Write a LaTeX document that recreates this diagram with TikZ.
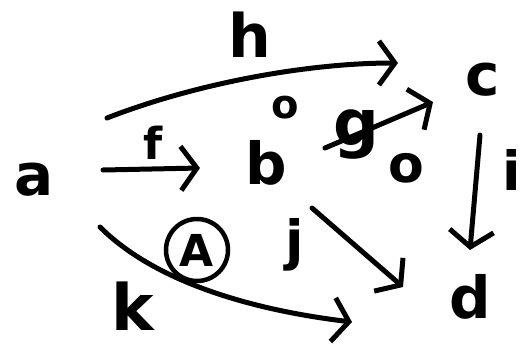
\documentclass[tikz,border=0pt]{standalone}
\usepackage{fontspec}
\setmainfont{DejaVu Sans}
\usetikzlibrary{arrows.meta}
\begin{document}
\begin{tikzpicture}[x=1pt,y=-1pt,
  obj/.style={inner sep=0pt, font=\fontsize{58pt}{58pt}\selectfont\bfseries},
  lbl/.style={inner sep=0pt, font=\fontsize{#1pt}{#1pt}\selectfont\bfseries},
  arr/.style={line width=5pt, line cap=round, line join=round,
    -{Straight Barb[length=16pt,width=44pt]}},
  circ/.style={draw, circle, line width=4.5pt, minimum size=62pt, inner sep=0pt,
    font=\fontsize{44pt}{44pt}\selectfont\bfseries}]
\fill[white] (0,0) rectangle (523,346);
\useasboundingbox (0,0) rectangle (523,346);
% objects
\node[obj] (a) at (34,180) {a};
\node[obj] (b) at (266,163) {b};
\node[obj] (c) at (483,80) {c};
\node[obj] (d) at (470,297) {d};
% labels
\node[lbl=44] (lf) at (153,143) {f};
\node[lbl=60] (lh) at (250,35) {h};
\node[lbl=64] (lg) at (356,135) {g};
\node[lbl=54] (li) at (512,170) {i};
\node[lbl=54] (lj) at (295,245) {j};
\node[lbl=64] (lk) at (133,306) {k};
\node[lbl=40] (o1) at (285,108) {o};
\node[lbl=52] (o2) at (406,168) {o};
\node[circ] (A) at (197,250) {A};
% arrows
\draw[arr] ([shift={(69,-10)}]a.center) -- ([shift={(-66,5)}]b.center);
\draw[arr] ([shift={(73,-62)}]a.center) .. controls +(90,-35) and +(-90,0) .. ([shift={(-85,-17)}]c.center);
\draw[arr] ([shift={(59,-15)}]b.center) -- ([shift={(-50,22)}]c.center);
\draw[arr] ([shift={(-3,55)}]c.center) -- ([shift={(0,-47)}]d.center);
\draw[arr] ([shift={(46,45)}]b.center) -- ([shift={(-67,-10)}]d.center);
\draw[arr] ([shift={(66,47)}]a.center) .. controls +(55,55) and +(-100,-12) .. ([shift={(-118,25)}]d.center);
\end{tikzpicture}
\end{document}
